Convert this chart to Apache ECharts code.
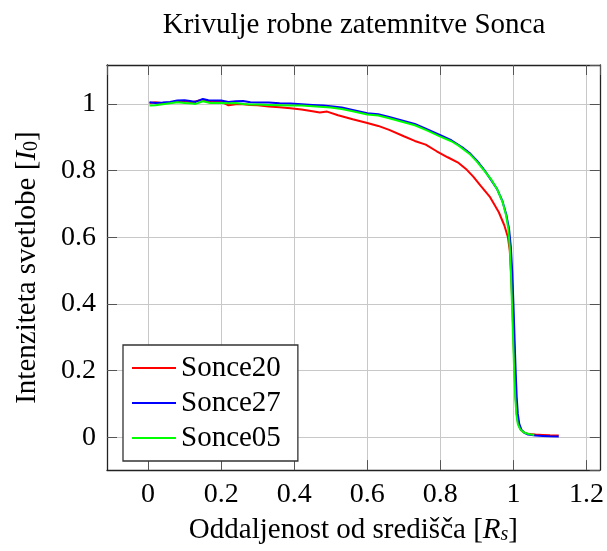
<!DOCTYPE html>
<html>
<head>
<meta charset="utf-8">
<script src="https://cdn.jsdelivr.net/npm/echarts@6/dist/echarts.min.js"></script>
<style>
  html, body { margin: 0; padding: 0; background: #fff; }
  #chart { width: 607px; height: 551px; }
</style>
</head>
<body>
<div id="chart"></div>
<script>
// Limb-darkening profiles: normalised intensity vs. distance from disc centre
const seriesNames = ['Sonce20', 'Sonce27', 'Sonce05'];
const seriesColors = ['#ff0000', '#0000ff', '#00ff00'];

const sonce20X = [0.004, 0.02, 0.04, 0.06, 0.08, 0.10, 0.12, 0.14, 0.16, 0.18, 0.20, 0.22, 0.24, 0.26, 0.28,
  0.30, 0.33, 0.36, 0.39, 0.42, 0.45, 0.47, 0.49, 0.52, 0.56, 0.60, 0.63, 0.66, 0.70, 0.73, 0.76, 0.79,
  0.82, 0.85, 0.87, 0.89, 0.91, 0.935, 0.96, 0.975, 0.985, 0.99, 0.994, 0.997, 1.000, 1.003, 1.006,
  1.009, 1.013, 1.02, 1.03, 1.04, 1.06, 1.08, 1.10, 1.124];
const sonce20Y = [1.003, 1.005, 1.002, 1.004, 1.008, 1.009, 1.005, 1.010, 1.008, 1.007, 1.007, 0.996, 0.999, 0.999, 0.997,
  0.996, 0.992, 0.990, 0.987, 0.983, 0.978, 0.974, 0.977, 0.966, 0.954, 0.943, 0.934, 0.922, 0.903, 0.889, 0.878, 0.858,
  0.840, 0.823, 0.805, 0.782, 0.755, 0.722, 0.675, 0.636, 0.600, 0.560, 0.480, 0.400, 0.300, 0.200, 0.120,
  0.070, 0.040, 0.022, 0.014, 0.010, 0.008, 0.007, 0.006, 0.005];

const sonce27X = [0.004, 0.02, 0.04, 0.06, 0.08, 0.10, 0.115, 0.13, 0.15, 0.165, 0.18, 0.20, 0.22, 0.24, 0.26, 0.28,
  0.30, 0.33, 0.36, 0.39, 0.42, 0.45, 0.48, 0.50, 0.53, 0.56, 0.60, 0.63, 0.66, 0.70, 0.73, 0.76, 0.80,
  0.83, 0.86, 0.88, 0.90, 0.92, 0.94, 0.955, 0.97, 0.98, 0.988, 0.993, 0.997, 1.000, 1.003, 1.006,
  1.009, 1.012, 1.016, 1.022, 1.03, 1.04, 1.06, 1.08, 1.10, 1.124];
const sonce27Y = [1.005, 1.003, 1.004, 1.006, 1.010, 1.011, 1.009, 1.006, 1.015, 1.011, 1.010, 1.010, 1.006, 1.008, 1.009, 1.005,
  1.004, 1.004, 1.002, 1.001, 0.999, 0.997, 0.995, 0.993, 0.989, 0.982, 0.972, 0.969, 0.961, 0.949, 0.940, 0.926, 0.906,
  0.891, 0.870, 0.853, 0.830, 0.802, 0.770, 0.745, 0.708, 0.670, 0.625, 0.570, 0.490, 0.400, 0.300, 0.200,
  0.120, 0.070, 0.040, 0.022, 0.013, 0.008, 0.005, 0.004, 0.003, 0.002];

const sonce05X = [0.004, 0.02, 0.04, 0.06, 0.08, 0.10, 0.12, 0.13, 0.15, 0.17, 0.20, 0.22, 0.24, 0.26, 0.28,
  0.30, 0.33, 0.36, 0.39, 0.42, 0.45, 0.48, 0.50, 0.53, 0.56, 0.60, 0.63, 0.66, 0.70, 0.73, 0.76, 0.80,
  0.83, 0.85, 0.88, 0.90, 0.92, 0.94, 0.955, 0.97, 0.98, 0.986, 0.99, 0.993, 0.996, 0.999, 1.002,
  1.005, 1.008, 1.012, 1.018, 1.025, 1.035, 1.045, 1.057];
const sonce05Y = [0.995, 0.996, 0.999, 1.002, 1.005, 1.003, 1.001, 1.000, 1.008, 1.003, 1.003, 1.002, 1.003, 1.000, 0.998,
  0.998, 0.997, 0.996, 0.995, 0.995, 0.993, 0.991, 0.989, 0.985, 0.978, 0.968, 0.965, 0.957, 0.945, 0.936, 0.922, 0.902,
  0.888, 0.875, 0.850, 0.827, 0.800, 0.772, 0.745, 0.707, 0.665, 0.625, 0.570, 0.500, 0.400, 0.300, 0.200,
  0.120, 0.070, 0.040, 0.025, 0.017, 0.012, 0.009, 0.007];

// Axis extents (data range padded by 10% on each side)
const xRange = [-0.1124, 1.2364];
const yRange = [-0.0986, 1.1168];

const titleText = 'Krivulje robne zatemnitve Sonca';
const xAxisName = 'Oddaljenost od središča [{it|R}{itSub|s}]';
const yAxisName = 'Intenziteta svetlobe [{it|I}{sub|0}]';

const FONT = "'Liberation Serif', 'DejaVu Serif', serif";
const FS = 29;       // title, axis names, legend
const FS_TICK = 28;  // tick labels
const LH = 32;

const zip = (xs, ys) => xs.map((x, i) => [x, ys[i]]);
const seriesData = [zip(sonce20X, sonce20Y), zip(sonce27X, sonce27Y), zip(sonce05X, sonce05Y)];

const nameRich = {
  it: { fontFamily: FONT, fontSize: FS, fontStyle: 'italic', color: '#000', lineHeight: LH },
  itSub: { fontFamily: FONT, fontSize: 20, fontStyle: 'italic', color: '#000', lineHeight: 22, padding: [10, 0, 0, 0] },
  sub: { fontFamily: FONT, fontSize: 20, color: '#000', lineHeight: 22, padding: [10, 0, 0, 0] }
};

const boxLine = { show: true, onZero: false, lineStyle: { color: '#222', width: 1.3 } };
const tickStyle = { show: true, inside: true, length: 10, lineStyle: { color: '#555', width: 1 } };
const gridLine = { show: true, lineStyle: { color: '#c8c8c8', width: 1 } };
const labelStyle = { fontFamily: FONT, fontSize: FS_TICK, color: '#000', margin: 11, showMinLabel: false, showMaxLabel: false };

const chart = echarts.init(document.getElementById('chart'), null, { renderer: 'canvas' });
chart.setOption({
  animation: false,
  backgroundColor: '#fff',
  title: {
    text: titleText,
    left: 354, top: 11, textAlign: 'center', padding: 0,
    textStyle: { fontFamily: FONT, fontSize: FS, fontWeight: 'normal', color: '#000' }
  },
  grid: { left: 107, right: 7, top: 65, bottom: 77, containLabel: false },
  xAxis: [{
    type: 'value', min: xRange[0], max: xRange[1], splitNumber: 6,
    position: 'bottom',
    axisLine: boxLine, axisTick: tickStyle, splitLine: gridLine,
    axisLabel: labelStyle,
    name: xAxisName, nameLocation: 'middle', nameGap: 37,
    nameTextStyle: { fontFamily: FONT, fontSize: FS, color: '#000', lineHeight: LH, rich: nameRich }
  }, {
    type: 'value', min: xRange[0], max: xRange[1], splitNumber: 6,
    position: 'top',
    axisLine: boxLine, axisTick: tickStyle, splitLine: { show: false },
    axisLabel: { show: false }
  }],
  yAxis: [{
    type: 'value', min: yRange[0], max: yRange[1], splitNumber: 6,
    position: 'left',
    axisLine: boxLine, axisTick: tickStyle, splitLine: gridLine,
    axisLabel: labelStyle,
    name: yAxisName, nameLocation: 'middle', nameGap: 64,
    nameTextStyle: { fontFamily: FONT, fontSize: FS, color: '#000', lineHeight: LH, rich: nameRich }
  }, {
    type: 'value', min: yRange[0], max: yRange[1], splitNumber: 6,
    position: 'right',
    axisLine: boxLine, axisTick: tickStyle, splitLine: { show: false },
    axisLabel: { show: false }
  }],
  legend: {
    orient: 'vertical', left: 123, top: 345,
    icon: 'rect', itemWidth: 44, itemHeight: 2, itemGap: 3,
    padding: [7, 17, 7, 9],
    borderColor: '#333', borderWidth: 1.3, backgroundColor: '#fff',
    textStyle: { fontFamily: FONT, fontSize: FS, color: '#000', lineHeight: LH },
    data: seriesNames
  },
  series: seriesNames.map((name, i) => ({
    name,
    type: 'line',
    xAxisIndex: 0, yAxisIndex: 0,
    data: seriesData[i],
    symbol: 'none',
    smooth: false,
    lineStyle: { color: seriesColors[i], width: 2 },
    itemStyle: { color: seriesColors[i] },
    z: 2 + i
  }))
});
</script>
</body>
</html>
